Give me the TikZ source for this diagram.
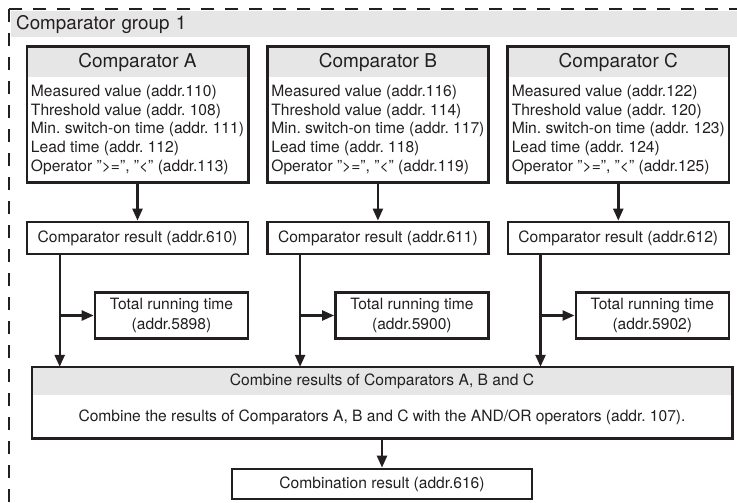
\documentclass[tikz,border=0pt]{standalone}
\usepackage{fontspec}
\setmainfont{TeX Gyre Heros}
\usepackage{tikz}
\usetikzlibrary{positioning, arrows.meta}
\definecolor{bandgray}{HTML}{E6E6E7}
\definecolor{inkgray}{HTML}{231F20}
\newcommand{\qm}{\symbol{34}}

\begin{document}
\frenchspacing
\begin{tikzpicture}[
    x=1pt, y=-1pt,
    every node/.style={text=inkgray},
    band/.style={
        fill=bandgray,
        minimum width=726pt,
        minimum height=26pt,
        text width=716pt,
        inner xsep=4pt,
        inner ysep=0pt,
        align=left,
        font=\fontsize{18.8pt}{22pt}\selectfont
    },
    head/.style={
        fill=bandgray,
        minimum width=221pt,
        minimum height=30pt,
        inner sep=0pt,
        font=\fontsize{19pt}{22pt}\selectfont
    },
    body/.style={
        minimum width=221pt,
        minimum height=105pt,
        inner sep=0pt,
        align=left,
        font=\fontsize{15.6pt}{18.7pt}\selectfont
    },
    boxline/.style={
        draw=inkgray,
        line width=2.6pt
    },
    resbox/.style={
        boxline,
        minimum width=221pt,
        minimum height=32pt,
        inner sep=0pt,
        font=\fontsize{15.6pt}{18.7pt}\selectfont
    },
    totbox/.style={
        boxline,
        minimum width=153pt,
        minimum height=46pt,
        inner sep=0pt,
        align=center,
        font=\fontsize{15.6pt}{19.5pt}\selectfont
    },
    combhead/.style={
        fill=bandgray,
        minimum width=700pt,
        minimum height=28pt,
        inner sep=0pt,
        font=\fontsize{15.6pt}{18.7pt}\selectfont
    },
    combbody/.style={
        minimum width=700pt,
        minimum height=43pt,
        inner sep=0pt,
        font=\fontsize{15.6pt}{18.7pt}\selectfont
    },
    arrow/.style={
        -{Triangle[length=12pt, width=10pt]},
        line width=2.4pt,
        draw=inkgray
    },
    groupline/.style={
        draw=inkgray,
        line width=2.4pt,
        dash pattern=on 13pt off 11pt
    }
]
\useasboundingbox (0,0) rectangle (737,503);

% Group frame
\node[band, anchor=north west] (group) at (11,11) {Comparator group 1};
\coordinate (corner) at (9,9);
\draw[groupline] (corner) -- (737,9);
\draw[groupline] (corner) -- (9,503);

% Comparators
\node[head] (compAh) at (137.5,62) {Comparator A};
\node[head, right=19pt of compAh] (compBh) {Comparator B};
\node[head, right=19pt of compBh] (compCh) {Comparator C};

\node[body, below=0pt of compAh] (compA) {Measured value (addr.110)\\Threshold value (addr. 108)\\Min. switch-on time (addr. 111)\\Lead time (addr. 112)\\Operator \qm>=\qm, \qm<\qm{} (addr.113)};
\node[body, below=0pt of compBh] (compB) {Measured value (addr.116)\\Threshold value (addr. 114)\\Min. switch-on time (addr. 117)\\Lead time (addr. 118)\\Operator \qm>=\qm, \qm<\qm{} (addr.119)};
\node[body, below=0pt of compCh] (compC) {Measured value (addr.122)\\Threshold value (addr. 120)\\Min. switch-on time (addr. 123)\\Lead time (addr. 124)\\Operator \qm>=\qm, \qm<\qm{} (addr.125)};

\draw[boxline] (compAh.north west) rectangle (compA.south east);
\draw[boxline] (compBh.north west) rectangle (compB.south east);
\draw[boxline] (compCh.north west) rectangle (compC.south east);

% Results
\node[resbox, below=38pt of compA] (resA) {Comparator result (addr.610)};
\node[resbox, below=38pt of compB] (resB) {Comparator result (addr.611)};
\node[resbox, below=38pt of compC] (resC) {Comparator result (addr.612)};

% Running times
\node[totbox, below left=36pt and 0pt of resA.south east] (totA) {Total running time\\(addr.5898)};
\node[totbox, below left=36pt and 0pt of resB.south east] (totB) {Total running time\\(addr.5900)};
\node[totbox, below left=36pt and 0pt of resC.south east] (totC) {Total running time\\(addr.5902)};

% Combination
\node[combhead] (combh) at (382,381) {Combine results of Comparators A, B and C};
\node[combbody, below=0pt of combh] (comb) {Combine the results of Comparators A, B and C with the AND/OR operators (addr. 107).};
\draw[boxline] (combh.north west) rectangle (comb.south east);

\node[resbox, minimum width=300pt, minimum height=30pt, below=29pt of comb] (final) {Combination result (addr.616)};

% Arrows
\coordinate (tapA) at ([xshift=34pt]resA.south west);
\coordinate (tapB) at ([xshift=34pt]resB.south west);
\coordinate (tapC) at ([xshift=34pt]resC.south west);

\draw[arrow] (compA) -- (resA);
\draw[arrow] (compB) -- (resB);
\draw[arrow] (compC) -- (resC);
\draw[arrow] (tapA) -- (tapA |- combh.north);
\draw[arrow] (tapB) -- (tapB |- combh.north);
\draw[arrow] (tapC) -- (tapC |- combh.north);
\draw[arrow] (tapA |- totA.west) -- (totA.west);
\draw[arrow] (tapB |- totB.west) -- (totB.west);
\draw[arrow] (tapC |- totC.west) -- (totC.west);
\draw[arrow] (comb) -- (final);

\end{tikzpicture}
\end{document}
